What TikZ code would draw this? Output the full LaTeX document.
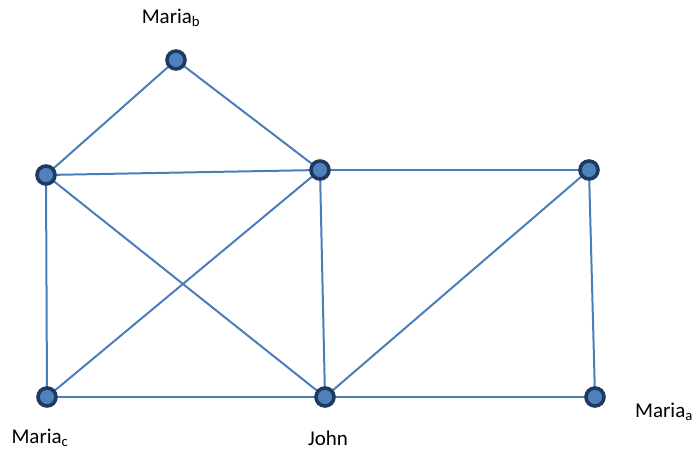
\documentclass[tikz,border=0pt]{standalone}
\usepackage{fontspec}
\setmainfont{Carlito}
\begin{document}
\begin{tikzpicture}[x=1pt,y=-1pt,
  vtx/.style={circle,draw=vborder,fill=vfill,line width=3.6pt,minimum size=18pt,inner sep=0pt},
  edge/.style={draw=ecol,line width=2pt},
  lbl/.style={font=\fontsize{21}{24}\selectfont,inner sep=0pt}]
\definecolor{vborder}{HTML}{1F3A5F}
\definecolor{vfill}{HTML}{4F81BD}
\definecolor{ecol}{HTML}{4A7EBB}
\useasboundingbox (0,0) rectangle (696,452);
\coordinate (pMb) at (176,60);
\coordinate (pLT) at (46,175);
\coordinate (pCT) at (320,170);
\coordinate (pRT) at (589,170);
\coordinate (pBL) at (47,397);
\coordinate (pBC) at (325,397);
\coordinate (pBR) at (595,397);
\foreach \a/\b in {Mb/LT,Mb/CT,LT/CT,CT/RT,LT/BL,LT/BC,CT/BL,CT/BC,RT/BC,RT/BR,BL/BC,BC/BR}
  \draw[edge] (p\a) -- (p\b);
\node[vtx] (Mb) at (pMb) {};
\node[vtx] (LT) at (pLT) {};
\node[vtx] (CT) at (pCT) {};
\node[vtx] (RT) at (pRT) {};
\node[vtx] (BL) at (pBL) {};
\node[vtx] (BC) at (pBC) {};
\node[vtx] (BR) at (pBR) {};
\node[lbl] (lMb) at (171,18) {Maria\textsubscript{b}};
\node[lbl] (lBL) at (40,438) {Maria\textsubscript{c}};
\node[lbl] (lBC) at (328,438) {John};
\node[lbl] (lBR) at (664,412) {Maria\textsubscript{a}};
\end{tikzpicture}
\end{document}
